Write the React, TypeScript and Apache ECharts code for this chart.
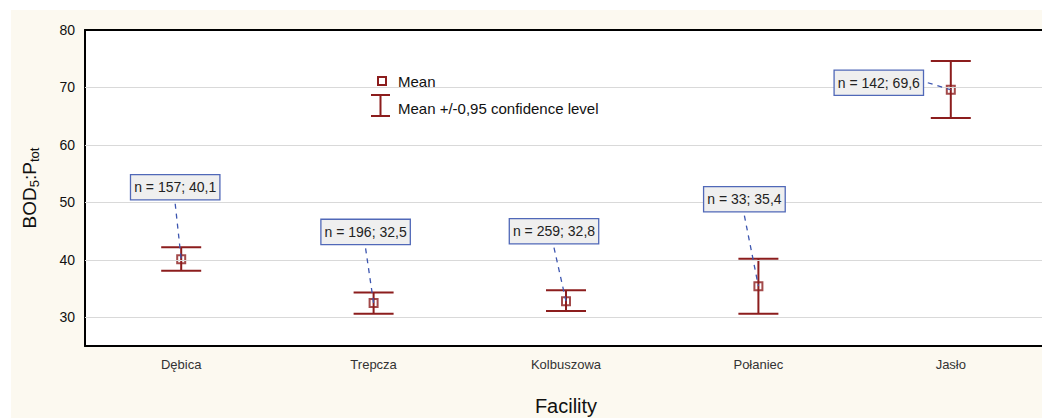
import React, { useEffect, useRef } from "react";
import * as echarts from "echarts";

const categories = ["Dębica", "Trepcza", "Kolbuszowa", "Połaniec", "Jasło"];
const means = [40.1, 32.5, 32.8, 35.4, 69.6];
const counts = [157, 196, 259, 33, 142];
const ciLow = [38.1, 30.6, 31.1, 30.6, 64.7];
const ciHigh = [42.2, 34.3, 34.7, 40.2, 74.6];
const yTicks = [30, 40, 50, 60, 70, 80];
const yMin = 25;
const yMax = 80;

// label box placement (pixel offsets of box centre from the mean marker)
const labelOffsets: [number, number][] = [
  [-6, -72],
  [-8, -71],
  [-12, -70],
  [-14, -87],
  [-72, -7],
];

const RED = "#8c1d1d";
const BLUE = "#3d56b0";
const FONT = '"Liberation Sans", Arial, sans-serif';

export default function App() {
  const ref = useRef<HTMLDivElement>(null);
  useEffect(() => {
    if (!ref.current) return;
    const chart = echarts.init(ref.current, null, { renderer: "svg" });
    const option: any = {
      animation: false,
      backgroundColor: "transparent",
      grid: {
        left: 85,
        top: 30,
        right: -5,
        bottom: 72,
        show: false,
        containLabel: false,
        outerBoundsMode: "none",
      },
      xAxis: [
        {
          type: "category",
          data: categories,
          position: "bottom",
          boundaryGap: true,
          name: "Facility",
          nameLocation: "middle",
          nameGap: 50,
          nameTextStyle: { fontFamily: FONT, fontSize: 20, color: "#111" },
          axisLine: { lineStyle: { color: "#000", width: 2 } },
          axisTick: { inside: true, alignWithLabel: true, length: 4, lineStyle: { color: "#000", width: 2 } },
          axisLabel: { fontFamily: FONT, fontSize: 13, color: "#333", margin: 12 },
          splitLine: { show: false },
        },
        {
          type: "category",
          data: categories,
          position: "top",
          boundaryGap: true,
          axisLine: { lineStyle: { color: "#000", width: 2 } },
          axisTick: { inside: true, alignWithLabel: true, length: 4, lineStyle: { color: "#000", width: 2 } },
          axisLabel: { show: false },
          splitLine: { show: false },
        },
      ],
      yAxis: {
        type: "value",
        min: yMin,
        max: yMax,
        name: "{b|BOD}{s|5}{b|:P}{s|tot}",
        nameLocation: "middle",
        nameRotate: 90,
        nameGap: 44,
        nameTextStyle: {
          rich: {
            b: { fontFamily: FONT, fontSize: 19, color: "#111", lineHeight: 24, verticalAlign: "middle" },
            s: { fontFamily: FONT, fontSize: 13, color: "#111", verticalAlign: "bottom" },
          },
        },
        axisLine: { show: true, lineStyle: { color: "#000", width: 2 } },
        axisTick: { show: true, inside: true, length: 3, customValues: yTicks, lineStyle: { color: "#000" } },
        axisLabel: { fontFamily: FONT, fontSize: 14, color: "#111", margin: 10, customValues: yTicks },
        splitLine: { show: false },
      },
      series: [
        {
          type: "line",
          data: [],
          markLine: {
            silent: true,
            symbol: "none",
            label: { show: false },
            lineStyle: { color: "#d9d9d9", width: 1, type: "solid" },
            data: yTicks.filter((v) => v < yMax).map((v) => ({ yAxis: v })),
          },
        },
        {
          type: "custom",
          name: "ci",
          data: categories.map((_, i) => [i, ciLow[i], ciHigh[i]]),
          renderItem: (params: any, api: any) => {
            const lo = api.coord([api.value(0), api.value(1)]);
            const hi = api.coord([api.value(0), api.value(2)]);
            const hw = 20;
            const st = { stroke: RED, lineWidth: 2, fill: "none" };
            return {
              type: "group",
              children: [
                { type: "line", shape: { x1: lo[0], y1: lo[1], x2: hi[0], y2: hi[1] }, style: st },
                { type: "line", shape: { x1: lo[0] - hw, y1: lo[1], x2: lo[0] + hw, y2: lo[1] }, style: st },
                { type: "line", shape: { x1: hi[0] - hw, y1: hi[1], x2: hi[0] + hw, y2: hi[1] }, style: st },
              ],
            };
          },
          z: 3,
        },
        {
          type: "scatter",
          name: "Mean",
          data: categories.map((_, i) => [i, means[i]]),
          symbol: "rect",
          symbolSize: 8,
          itemStyle: { color: "rgba(255,255,255,0)", borderColor: RED, borderWidth: 2 },
          z: 4,
        },
        {
          type: "custom",
          name: "labels",
          data: categories.map((_, i) => [i, means[i], counts[i]]),
          renderItem: (params: any, api: any) => {
            const i = params.dataIndex;
            const p = api.coord([api.value(0), api.value(1)]);
            const [dx, dy] = labelOffsets[i];
            const cx = p[0] + dx;
            const cy = p[1] + dy;
            const txt = `n = ${counts[i]}; ${String(means[i]).replace(".", ",")}`;
            let sx: number, sy: number;
            if (Math.abs(dy) >= Math.abs(dx)) {
              sx = cx;
              sy = cy + 13.5 + 3;
            } else {
              sx = cx + 44 + 5;
              sy = cy;
            }
            return {
              type: "group",
              children: [
                {
                  type: "line",
                  shape: { x1: sx, y1: sy, x2: p[0], y2: p[1] },
                  style: { stroke: BLUE, lineWidth: 1.3, lineDash: [5, 5] },
                },
                {
                  type: "text",
                  x: cx,
                  y: cy,
                  style: {
                    text: txt,
                    align: "center",
                    verticalAlign: "middle",
                    font: `14px ${FONT}`,
                    fill: "#222",
                    backgroundColor: "#efefef",
                    borderColor: "#5068b8",
                    borderWidth: 1.3,
                    padding: [5, 3, 5, 3],
                  },
                },
              ],
            };
          },
          z: 5,
        },
      ],
      graphic: [
        { type: "rect", shape: { x: 378, y: 77, width: 8, height: 8 }, style: { fill: "none", stroke: RED, lineWidth: 2 }, z: 10 },
        { type: "text", x: 398, y: 81, style: { text: "Mean", font: `15px ${FONT}`, fill: "#111", verticalAlign: "middle" }, z: 10 },
        {
          type: "group",
          z: 10,
          children: [
            { type: "line", shape: { x1: 380.5, y1: 95, x2: 380.5, y2: 116 }, style: { stroke: RED, lineWidth: 2 } },
            { type: "line", shape: { x1: 371, y1: 95, x2: 390, y2: 95 }, style: { stroke: RED, lineWidth: 2 } },
            { type: "line", shape: { x1: 371, y1: 116, x2: 390, y2: 116 }, style: { stroke: RED, lineWidth: 2 } },
          ],
        },
        { type: "text", x: 398, y: 108, style: { text: "Mean +/-0,95 confidence level", font: `15px ${FONT}`, fill: "#111", verticalAlign: "middle" }, z: 10 },
      ],
    };
    chart.setOption(option);
    return () => chart.dispose();
  }, []);

  return (
    <div style={{ position: "absolute", left: 0, top: 0, width: 1042, height: 418, background: "#ffffff", overflow: "hidden" }}>
      <div style={{ position: "absolute", left: 11, top: 10, width: 1031, height: 408, background: "#fcf9f0" }} />
      <div style={{ position: "absolute", left: 85, top: 30, width: 957, height: 316, background: "#ffffff" }} />
      <div ref={ref} style={{ position: "absolute", left: 0, top: 0, width: 1042, height: 418 }} />
    </div>
  );
}
